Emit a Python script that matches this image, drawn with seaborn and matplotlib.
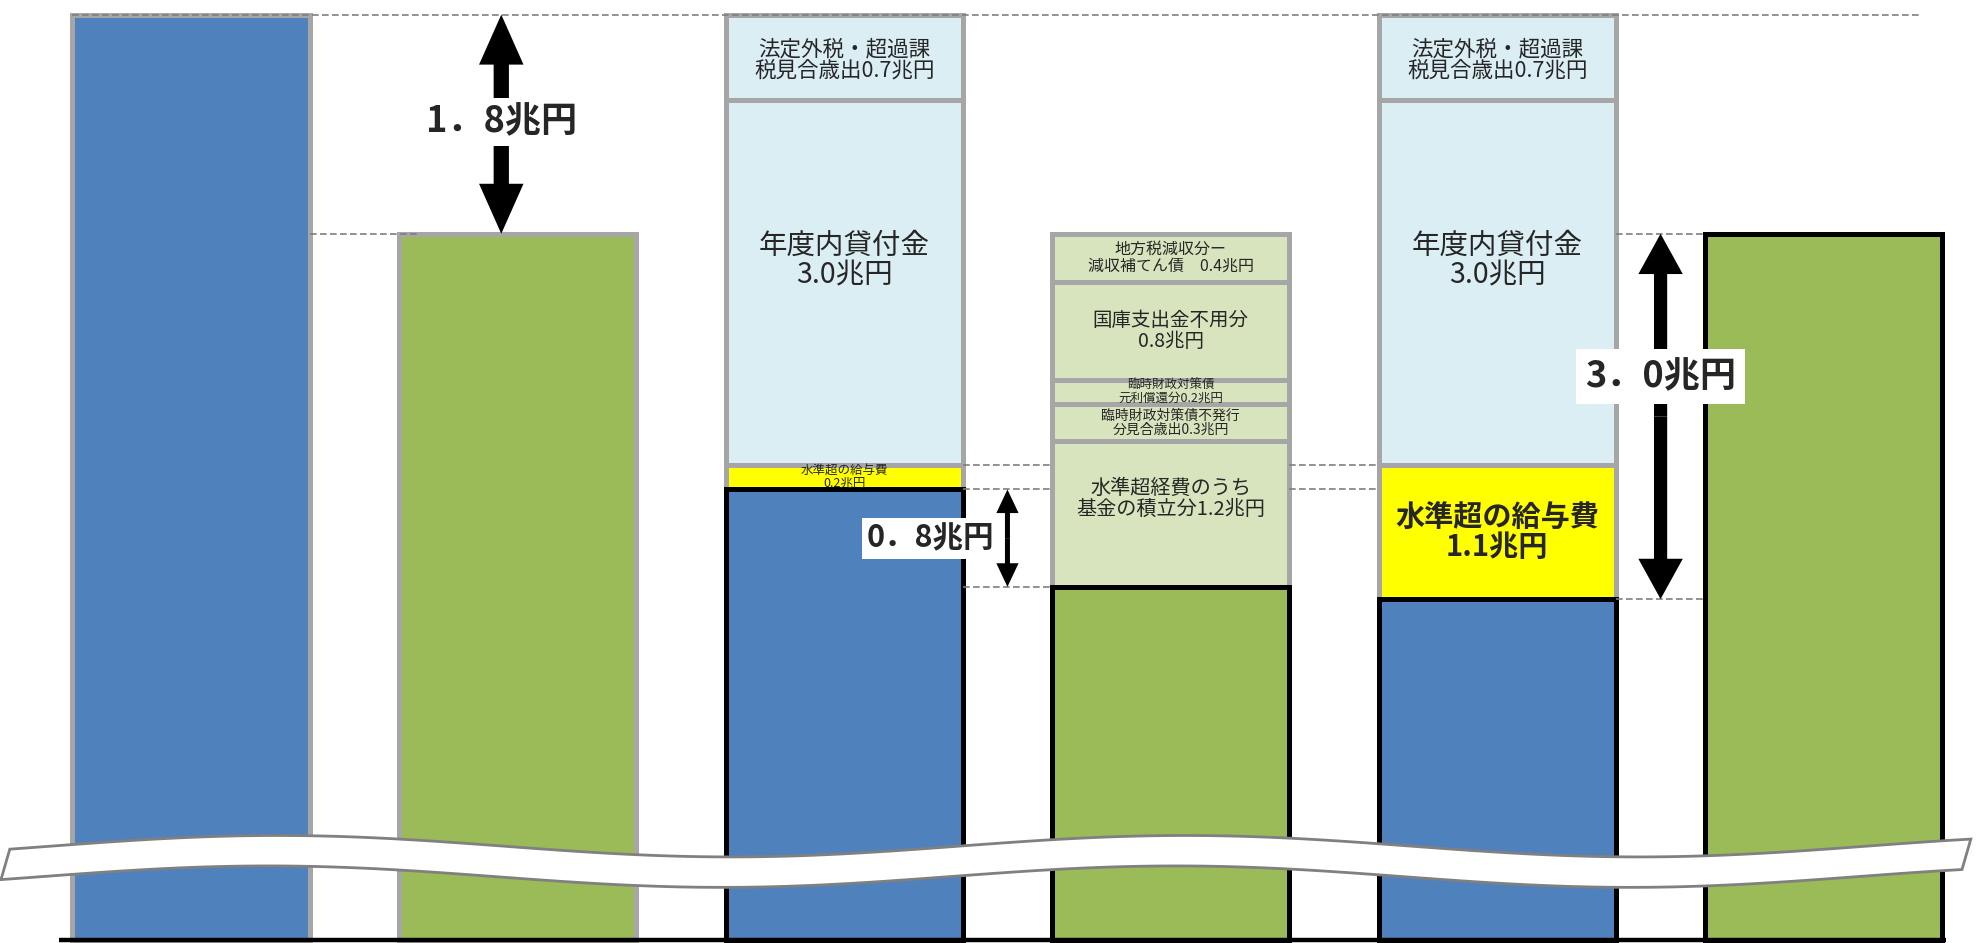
import numpy as np
import pandas as pd
import matplotlib
matplotlib.use("Agg")
import matplotlib.pyplot as plt
from matplotlib.patches import Polygon, ArrowStyle
import seaborn as sns

sns.set_theme(style="white")
plt.rcParams["font.family"] = ["Noto Sans CJK JP", "DejaVu Sans"]

# Column heights in 兆円, measured from the cut line of the broken axis
columns = ["c1", "c2", "c3", "c4", "c5", "c6"]
base_values = [7.6, 5.8, 3.7, 2.9, 2.8, 5.8]
base_colors = ["#4F81BD", "#9BBB59", "#4F81BD", "#9BBB59", "#4F81BD", "#9BBB59"]
base_edges = ["#A6A6A6", "#A6A6A6", "black", "black", "black", "black"]

# Items stacked on columns 3, 4 and 5 (listed bottom to top)
col3_items = [0.2, 3.0, 0.7]
col3_labels = ["水準超の給与費\n0.2兆円", "年度内貸付金\n3.0兆円",
               "法定外税・超過課\n税見合歳出0.7兆円"]
col4_items = [1.2, 0.3, 0.2, 0.8, 0.4]
col4_labels = ["水準超経費のうち\n基金の積立分1.2兆円",
               "臨時財政対策債不発行\n分見合歳出0.3兆円",
               "臨時財政対策債\n元利償還分0.2兆円",
               "国庫支出金不用分\n0.8兆円",
               "地方税減収分ー\n減収補てん債　0.4兆円"]
col5_items = [1.1, 3.0, 0.7]
col5_labels = ["水準超の給与費\n1.1兆円", "年度内貸付金\n3.0兆円",
               "法定外税・超過課\n税見合歳出0.7兆円"]

# Differences marked with arrows
gap_values = [1.8, 0.8, 3.0]
gap_labels = ["1．8兆円", "0．8兆円", "3．0兆円"]

BAR_W = 0.726
GRAY = "#A6A6A6"
LIGHT_BLUE = "#DBEEF4"
YELLOW = "#FFFF00"
OLIVE = "#D7E4BD"
DASH = "#7F7F7F"
EDGE_LW = 3.6

fig = plt.figure(figsize=(19.78, 9.43), dpi=100)
ax = fig.add_axes([0, 0, 1, 1])

df = pd.DataFrame({"column": columns, "value": base_values})
sns.barplot(data=df, x="column", y="value", hue="column", palette=base_colors,
            width=BAR_W, saturation=1, legend=False, ax=ax)
for patch, ec in zip(ax.patches, base_edges):
    patch.set_edgecolor(ec)
    patch.set_linewidth(EDGE_LW)
    patch.set_zorder(3)


def stack(xpos, start, items, labels, colors, sizes, fracs, weights=None):
    bottom = start
    weights = weights or ["normal"] * len(items)
    for h, lab, fc, fs, fr, fw in zip(items, labels, colors, sizes, fracs, weights):
        ax.bar(xpos, h, bottom=bottom, width=BAR_W, color=fc, edgecolor=GRAY,
               linewidth=EDGE_LW, zorder=2)
        ax.text(xpos, bottom + h * fr, lab, ha="center", va="center",
                fontsize=fs, fontweight=fw, linespacing=0.98, zorder=6)
        bottom += h


stack(2, base_values[2], col3_items, col3_labels,
      [YELLOW, LIGHT_BLUE, LIGHT_BLUE], [9, 20.5, 15.5], [0.5, 0.56, 0.47])
stack(3, base_values[3], col4_items, col4_labels,
      [OLIVE] * 5, [14.5, 10, 9, 14, 11.5], [0.6, 0.5, 0.5, 0.5, 0.5])
stack(4, base_values[4], col5_items, col5_labels,
      [YELLOW, LIGHT_BLUE, LIGHT_BLUE], [21, 20.5, 15.5], [0.5, 0.56, 0.47],
      ["bold", "normal", "normal"])

half = BAR_W / 2
dash_kw = dict(color=DASH, lw=1.2, ls=(0, (4, 2)), zorder=4)
top = base_values[0]
ax.plot([0 - half, 5.29], [top, top], **dash_kw)
ax.plot([0 + half, 0.70], [base_values[1]] * 2, **dash_kw)
ax.plot([4 + half, 5 - half], [base_values[5]] * 2, **dash_kw)
yellow3_top = base_values[2] + col3_items[0]
for level in (yellow3_top, base_values[2]):
    ax.plot([2 + half, 3 - half], [level] * 2, **dash_kw)
    ax.plot([3 + half, 4 - half], [level] * 2, **dash_kw)
ax.plot([2 + half, 3 - half], [base_values[3]] * 2, **dash_kw)
ax.plot([4 + half, 5 - half], [base_values[4]] * 2, **dash_kw)


def double_arrow(x, y0, y1, hl, hw, tw):
    mid = (y0 + y1) / 2
    style = ArrowStyle.Simple(head_length=hl, head_width=hw, tail_width=tw)
    for end in (y0, y1):
        ax.annotate("", xy=(x, end), xytext=(x, mid),
                    arrowprops=dict(arrowstyle=style, mutation_scale=1,
                                    shrinkA=0, shrinkB=0, fc="black",
                                    ec="none", lw=0), zorder=5)


box = dict(boxstyle="square,pad=0.15", fc="white", ec="none")
# 1.8 between column 1 and column 2
double_arrow(0.95, base_values[1], base_values[1] + gap_values[0], 36, 32, 11)
ax.text(0.95, base_values[1] + gap_values[0] * 0.51, gap_labels[0], ha="center",
        va="center", fontsize=26, fontweight="bold", bbox=box, zorder=7)
# 0.8 between column 3 and column 4
double_arrow(2.5, base_values[3], base_values[3] + gap_values[1], 17, 16, 3.6)
ax.text(2.46, base_values[3] + gap_values[1] / 2, gap_labels[1], ha="right",
        va="center", fontsize=22, fontweight="bold", bbox=box, zorder=7)
# 3.0 between column 5 and column 6
double_arrow(4.5, base_values[4], base_values[4] + gap_values[2], 29, 32, 9.5)
ax.text(4.5, base_values[4] + gap_values[2] * 0.61, gap_labels[2], ha="center",
        va="center", fontsize=26, fontweight="bold",
        bbox=dict(boxstyle="square,pad=0.25", fc="white", ec="none"), zorder=7)

# Baseline
ax.plot([-half - 0.04, 5 + half + 0.01], [0, 0], color="black", lw=3.2,
        solid_capstyle="butt", zorder=8)

# Axis break ribbon
xs = np.linspace(-0.555, 5.45, 400)
wave = -0.088 * np.cos(2 * np.pi * (xs - 1.654) / 2.78)
upper = 0.77 + wave
lower = 0.52 + wave
ribbon = np.column_stack([np.r_[xs, xs[::-1] - 0.027],
                          np.r_[upper, lower[::-1]]])
ax.add_patch(Polygon(ribbon, closed=True, fc="white", ec="#808080", lw=2.0,
                     zorder=9))

ax.set_xlim(-0.585, 5.472)
ax.set_ylim(-0.025, 7.72)
ax.axis("off")

fig.savefig("out.png", dpi=100, facecolor="white")
